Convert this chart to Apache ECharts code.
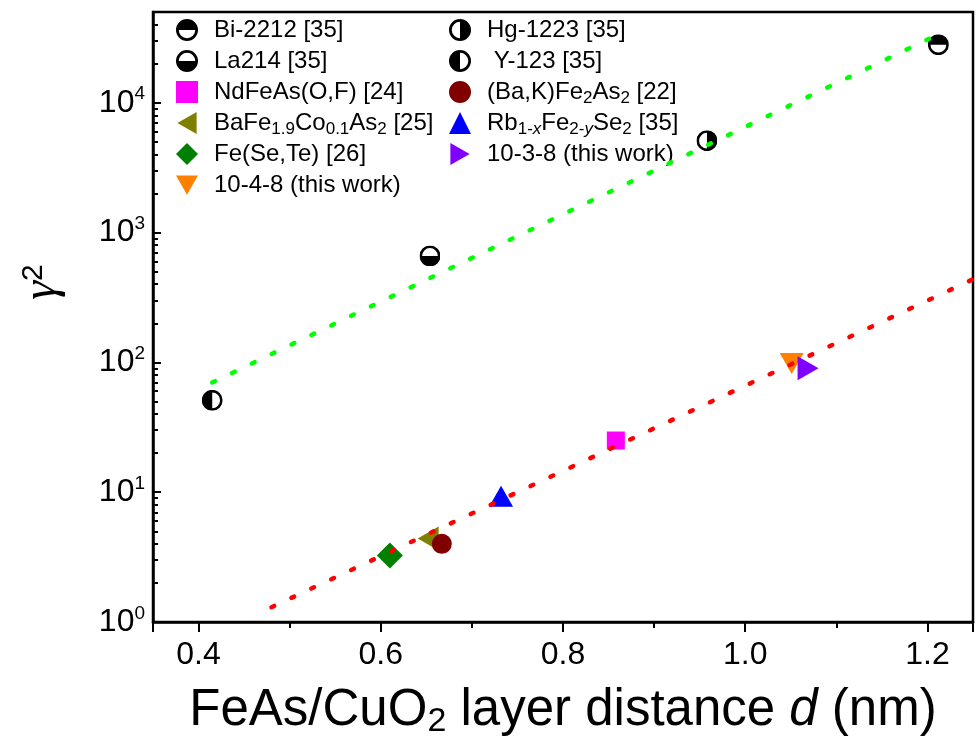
<!DOCTYPE html>
<html><head><meta charset="utf-8">
<script src="https://cdn.jsdelivr.net/npm/echarts@6/dist/echarts.min.js"></script>
<style>html,body{margin:0;padding:0;background:#fff}#c{width:977px;height:753px}</style>
</head><body><div id="c"></div>
<script>
// ---------- data ----------
const bi2212   = [[1.212, 28000]];
const la214    = [[0.654, 660]];
const hg1223   = [[0.958, 5100]];
const y123     = [[0.415, 51]];
const ndFeAsOF = [[0.858, 25]];
const baKFe2As2 = [[0.667, 4.0]];
const baFeCoAs = [[0.652, 4.4]];
const rbFeSe   = [[0.732, 9.3]];
const feSeTe   = [[0.610, 3.25]];
const s1038    = [[1.069, 90]];
const s1048    = [[1.051, 98]];
const cuprateFit  = [[0.415, 70], [1.205, 31900]];
const pnictideFit = [[0.48, 1.3], [1.25, 437]];

const legendLeft  = ['Bi-2212 [35]', 'La214 [35]', 'NdFeAs(O,F) [24]', 'BaFe1.9Co0.1As2 [25]', 'Fe(Se,Te) [26]', '10-4-8 (this work)'];
const legendRight = ['Hg-1223 [35]', 'Y-123 [35]', '(Ba,K)Fe2As2 [22]', 'Rb1-xFe2-ySe2 [35]', '10-3-8 (this work)'];
const legendRich = {
  'BaFe1.9Co0.1As2 [25]': 'BaFe{s|1.9}Co{s|0.1}As{s|2} [25]',
  '(Ba,K)Fe2As2 [22]': '(Ba,K)Fe{s|2}As{s|2} [22]',
  'Rb1-xFe2-ySe2 [35]': 'Rb{s|1-}{si|x}Fe{s|2-}{si|y}Se{s|2} [35]',
  'Y-123 [35]': ' Y-123 [35]'
};
const symbolRotation = {
  'BaFe1.9Co0.1As2 [25]': 90,
  '10-4-8 (this work)': 180,
  '10-3-8 (this work)': -90
};
// triangle glyphs used for the legend icons of the rotated triangles
const legendIcons = {
  'BaFe1.9Co0.1As2 [25]': 'path://M0,12 L21,0 L21,24 Z',
  '10-4-8 (this work)': 'path://M0,0 L24,0 L12,21 Z',
  '10-3-8 (this work)': 'path://M0,0 L21,12 L0,24 Z'
};

const FONT = '"Liberation Sans", Arial, sans-serif';

function halfDisc(side) {
  const arcs = {
    top: 'M2.5 20 A17.5 17.5 0 0 1 37.5 20 Z',
    bottom: 'M2.5 20 A17.5 17.5 0 0 0 37.5 20 Z',
    right: 'M20 2.5 A17.5 17.5 0 0 1 20 37.5 Z',
    left: 'M20 2.5 A17.5 17.5 0 0 0 20 37.5 Z'
  };
  const svg = "<svg xmlns='http://www.w3.org/2000/svg' width='40' height='40' viewBox='0 0 40 40'>" +
    "<circle cx='20' cy='20' r='17.5' fill='white' stroke='black' stroke-width='5'/>" +
    "<path d='" + arcs[side] + "' fill='black'/></svg>";
  return 'image://data:image/svg+xml;charset=utf-8,' + encodeURIComponent(svg);
}

const chart = echarts.init(document.getElementById('c'), null, {renderer: 'canvas'});

function scatter(name, data, symbol, size, color) {
  const s = {name: name, type: 'scatter', data: data, symbol: symbol, symbolSize: size, z: 2, silent: true,
             itemStyle: {opacity: 1}};
  if (symbolRotation[name]) s.symbolRotate = symbolRotation[name];
  if (color) s.itemStyle.color = color;
  return s;
}

const legendText = {
  color: '#000', fontFamily: FONT, fontSize: 24, lineHeight: 30, padding: [0, 0, 0, 11],
  rich: {
    s: {fontFamily: FONT, fontSize: 17, lineHeight: 14, verticalAlign: 'bottom', color: '#000'},
    si: {fontFamily: FONT, fontSize: 17, lineHeight: 14, verticalAlign: 'bottom', fontStyle: 'italic', color: '#000'}
  }
};
function legendCfg(names, left) {
  return {
    data: names.map(function (n) {
      const d = {name: n};
      if (legendIcons[n]) d.icon = legendIcons[n];
      return d;
    }),
    orient: 'vertical', left: left, top: 10, itemWidth: 22, itemHeight: 22, itemGap: 1,
    selectedMode: false, textStyle: legendText,
    formatter: function (n) { return legendRich[n] || n; }
  };
}

const option = {
  animation: false,
  backgroundColor: '#fff',
  grid: {left: 153, right: 4, top: 12, bottom: 131, show: true, borderColor: '#000', borderWidth: 2.5},
  legend: [legendCfg(legendLeft, 171), legendCfg(legendRight, 444)],
  xAxis: {
    type: 'value', min: 0.35, max: 1.25, splitNumber: 5,
    axisLine: {lineStyle: {color: '#000', width: 2.5}},
    axisTick: {length: 10, lineStyle: {color: '#000', width: 2}},
    minorTick: {show: true, splitNumber: 2, length: 6, lineStyle: {color: '#000', width: 2}},
    splitLine: {show: false},
    axisLabel: {
      color: '#000', fontFamily: FONT, fontSize: 32, lineHeight: 36, margin: 15,
      formatter: function (v) { return Math.abs(v * 5 - Math.round(v * 5)) < 1e-6 ? v.toFixed(1) : ''; }
    },
    name: 'FeAs/CuO{s|2} layer distance {it|d} (nm)',
    nameLocation: 'middle', nameGap: 61,
    nameTextStyle: {
      color: '#000', fontFamily: FONT, fontSize: 51, lineHeight: 56,
      rich: {
        s: {fontFamily: FONT, fontSize: 34, lineHeight: 20, verticalAlign: 'bottom', color: '#000'},
        it: {fontFamily: FONT, fontSize: 51, lineHeight: 56, fontStyle: 'italic', color: '#000'}
      }
    }
  },
  yAxis: {
    type: 'log', logBase: 10, min: 1, max: 50000,
    axisLine: {lineStyle: {color: '#000', width: 2.5}},
    axisTick: {inside: true, length: 8, lineStyle: {color: '#000', width: 2}},
    minorTick: {show: true, splitNumber: 9, length: 5, lineStyle: {color: '#000', width: 2}},
    splitLine: {show: false},
    axisLabel: {
      color: '#000', margin: 8,
      formatter: function (v) {
        const e = Math.log10(v);
        if (Math.abs(e - Math.round(e)) > 1e-6) return '';
        return '{b|10}{p|' + Math.round(e) + '}';
      },
      rich: {
        b: {fontFamily: FONT, fontSize: 32, lineHeight: 36, color: '#000'},
        p: {fontFamily: FONT, fontSize: 19, lineHeight: 15, verticalAlign: 'top', color: '#000'}
      }
    },
    name: '{g|γ}{s|2}',
    nameLocation: 'middle', nameRotate: 90, nameGap: 88,
    nameTextStyle: {
      padding: [0, 0, 0, 70],
      rich: {
        g: {fontFamily: '"Liberation Serif", serif', fontStyle: 'italic', fontSize: 48, lineHeight: 46, color: '#000'},
        s: {fontFamily: FONT, fontSize: 30, lineHeight: 22, verticalAlign: 'top', color: '#000'}
      }
    }
  },
  series: [
    scatter('Bi-2212 [35]', bi2212, halfDisc('top'), 21),
    scatter('La214 [35]', la214, halfDisc('bottom'), 21),
    scatter('Hg-1223 [35]', hg1223, halfDisc('right'), 21),
    scatter('Y-123 [35]', y123, halfDisc('left'), 21),
    scatter('NdFeAs(O,F) [24]', ndFeAsOF, 'rect', 18, '#ff00ff'),
    scatter('BaFe1.9Co0.1As2 [25]', baFeCoAs, 'triangle', [24, 21], '#808000'),
    scatter('(Ba,K)Fe2As2 [22]', baKFe2As2, 'circle', 20, '#800000'),
    scatter('Fe(Se,Te) [26]', feSeTe, 'diamond', 26, '#008000'),
    scatter('Rb1-xFe2-ySe2 [35]', rbFeSe, 'triangle', [24, 21], '#0000ff'),
    scatter('10-4-8 (this work)', s1048, 'triangle', [24, 21], '#ff8000'),
    scatter('10-3-8 (this work)', s1038, 'triangle', [24, 21], '#8000ff'),
    {name: 'cuprate fit', type: 'line', data: cuprateFit, symbol: 'none', showSymbol: false, silent: true, z: 5,
     lineStyle: {color: '#00ff00', width: 4.5, type: [3, 19], cap: 'round'}},
    {name: 'pnictide fit', type: 'line', data: pnictideFit, symbol: 'none', showSymbol: false, silent: true, z: 5,
     lineStyle: {color: '#ff0000', width: 4.5, type: [3, 19], cap: 'round'}}
  ]
};
chart.setOption(option);
</script></body></html>
